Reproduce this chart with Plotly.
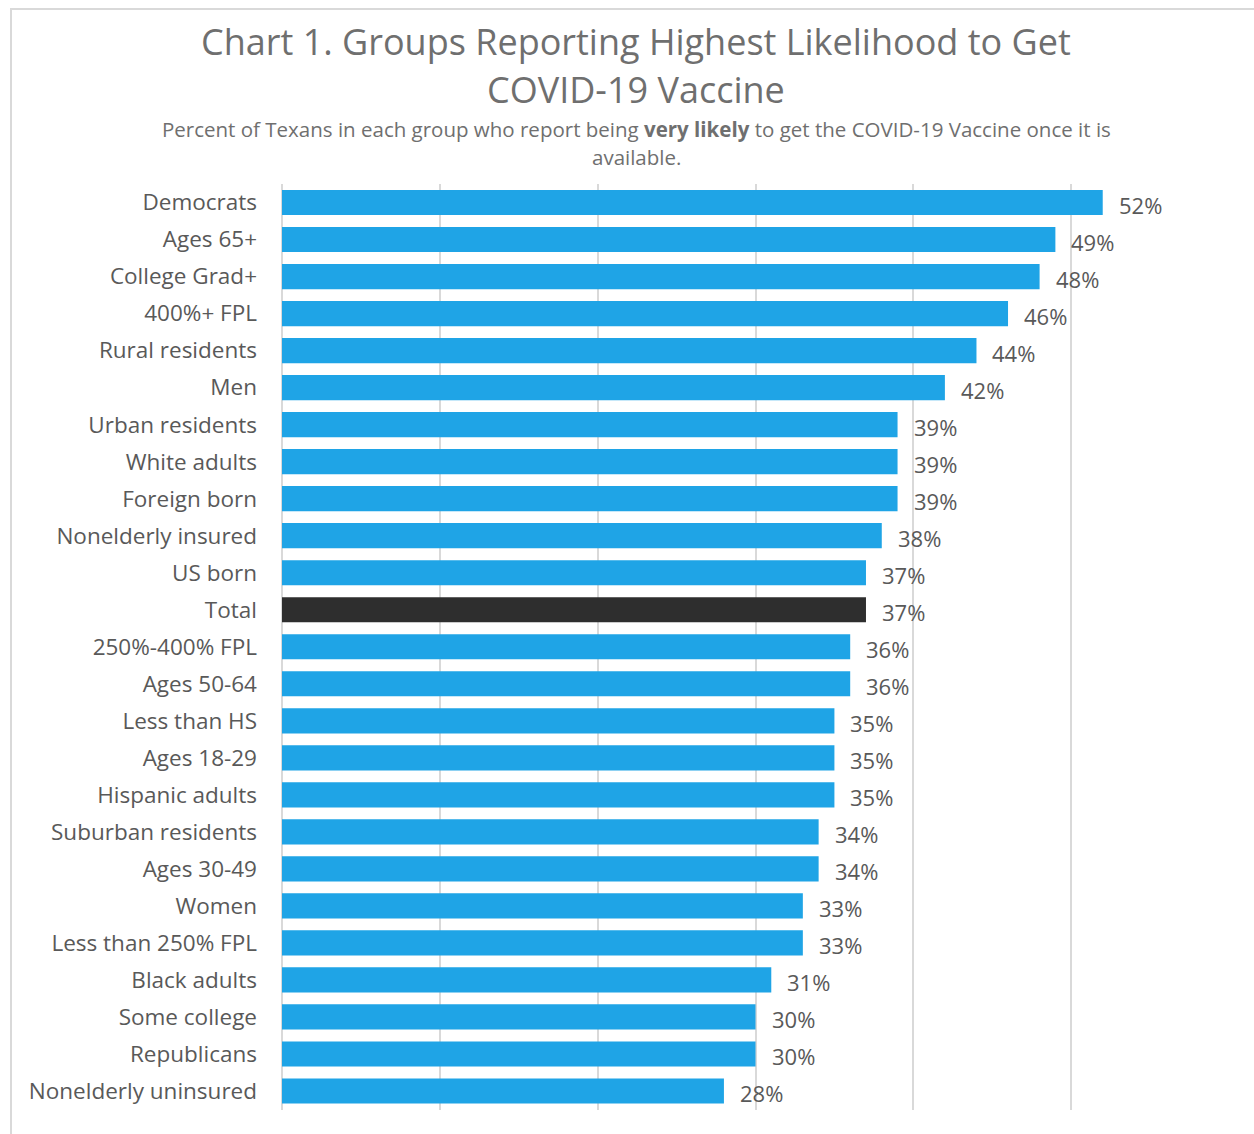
import plotly.graph_objects as go

# Groups, top to bottom, and share reporting "very likely" (%)
groups = [
    "Democrats", "Ages 65+", "College Grad+", "400%+ FPL", "Rural residents",
    "Men", "Urban residents", "White adults", "Foreign born", "Nonelderly insured",
    "US born", "Total", "250%-400% FPL", "Ages 50-64", "Less than HS",
    "Ages 18-29", "Hispanic adults", "Suburban residents", "Ages 30-49", "Women",
    "Less than 250% FPL", "Black adults", "Some college", "Republicans",
    "Nonelderly uninsured",
]
values = [52, 49, 48, 46, 44, 42, 39, 39, 39, 38, 37, 37, 36, 36, 35, 35, 35,
          34, 34, 33, 33, 31, 30, 30, 28]
highlight = "Total"

BLUE = "#1FA4E6"
DARK = "#2E2E2E"
TEXT = "#595959"
TITLE = "#6F6F6F"
FONT = "Open Sans"

W, H = 1254, 1134
L, R, T, B = 282, 25, 184, 24
pw, ph = W - L - R, H - T - B


def px(x):
    return (x - L) / pw


def py(y):
    return 1 - (y - T) / ph


colors = [DARK if g == highlight else BLUE for g in groups]

fig = go.Figure(go.Bar(
    x=values,
    y=groups,
    orientation="h",
    marker=dict(color=colors, line=dict(width=0)),
    width=0.68,
    hoverinfo="x+y",
))

# value labels just past the end of each bar
value_labels = [
    dict(x=v, y=g, xref="x", yref="y", text=f"{v}%", showarrow=False,
         xanchor="left", yanchor="middle", xshift=14, yshift=-2,
         font=dict(family=FONT, size=22, color=TEXT))
    for g, v in zip(groups, values)
]

title_notes = [
    dict(text="Chart 1. Groups Reporting Highest Likelihood to Get",
         x=px(636), y=py(41), xref="paper", yref="paper",
         xanchor="center", yanchor="middle", showarrow=False,
         font=dict(family=FONT, size=36, color=TITLE)),
    dict(text="COVID-19 Vaccine",
         x=px(636), y=py(90), xref="paper", yref="paper",
         xanchor="center", yanchor="middle", showarrow=False,
         font=dict(family=FONT, size=36, color=TITLE)),
    dict(text="Percent of Texans in each group who report being <b>very likely</b> "
              "to get the COVID-19 Vaccine once it is",
         x=px(636), y=py(129), xref="paper", yref="paper",
         xanchor="center", yanchor="middle", showarrow=False,
         font=dict(family=FONT, size=20.5, color=TITLE)),
    dict(text="available.",
         x=px(636), y=py(157), xref="paper", yref="paper",
         xanchor="center", yanchor="middle", showarrow=False,
         font=dict(family=FONT, size=20.5, color=TITLE)),
]

fig.update_layout(
    width=W,
    height=H,
    margin=dict(l=L, r=R, t=T, b=B),
    paper_bgcolor="white",
    plot_bgcolor="white",
    showlegend=False,
    font=dict(family=FONT, color=TEXT),
    xaxis=dict(
        range=[0, 60],
        dtick=10,
        showticklabels=False,
        showgrid=True,
        gridcolor="#D9D9D9",
        gridwidth=2,
        zeroline=True,
        zerolinecolor="#D9D9D9",
        zerolinewidth=2,
        fixedrange=True,
    ),
    yaxis=dict(
        categoryorder="array",
        categoryarray=groups[::-1],
        tickfont=dict(family=FONT, size=22.5, color=TEXT),
        ticks="",
        ticklabelstandoff=24,
        showgrid=False,
        fixedrange=True,
    ),
    shapes=[dict(
        type="rect", xref="paper", yref="paper",
        x0=px(11), x1=px(1262), y0=py(9), y1=py(1140),
        line=dict(color="#D9D9D9", width=2), layer="below",
    )],
    annotations=value_labels + title_notes,
)

fig.write_html("out.html")
